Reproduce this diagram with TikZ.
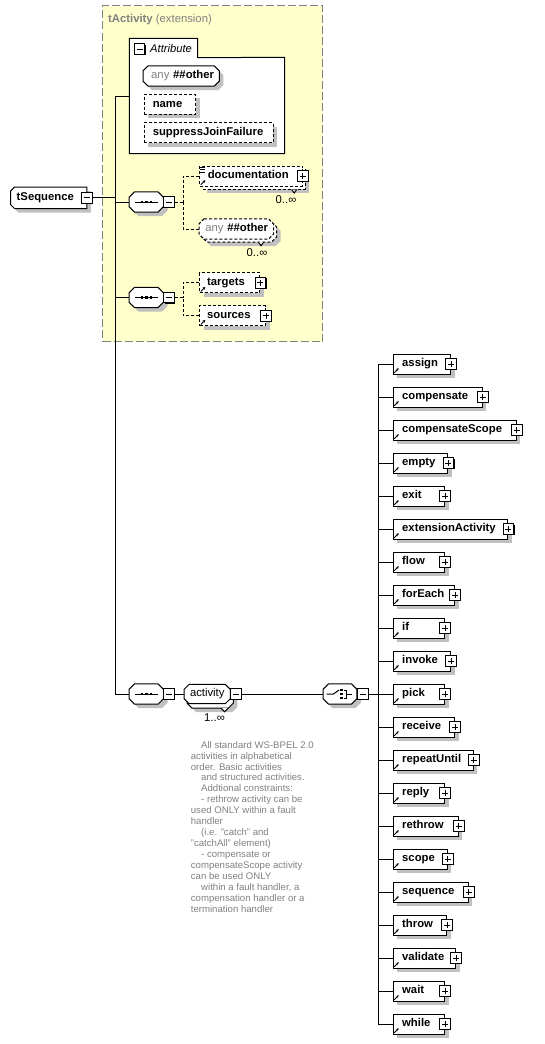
\documentclass[tikz,border=0pt]{standalone}
\usepackage{fontspec}
\setmainfont{Liberation Sans}
\usetikzlibrary{shadows,arrows.meta}
\definecolor{yel}{RGB}{255,255,204}
\definecolor{ybord}{RGB}{128,128,128}
\definecolor{shadowc}{RGB}{192,192,192}
\definecolor{txtgray}{RGB}{128,128,128}
\definecolor{annot}{RGB}{128,128,128}
\pgfdeclarelayer{bg}
\pgfdeclarelayer{shp}
\pgfsetlayers{bg,shp,main}
\newcommand\myfb{\fontsize{11.3pt}{13pt}\selectfont\bfseries}
\newcommand\myfn{\fontsize{11.3pt}{13pt}\selectfont\mdseries}
\newcommand\myfi{\fontsize{11.2pt}{13pt}\selectfont\itshape}
\newcommand\myfa{\fontsize{9.6pt}{10.93pt}\selectfont}
\newcommand\refmk[1]{\draw[line width=0.9pt,-{Stealth[length=2.8pt,width=2.8pt]}] ([shift={(1.5,-1.8)}]#1.south west) -- ++(4.5,-4.5);}
% octagon outline of a node: #1 node, #2 left chamfer, #3 right chamfer, #4 style, #5 dx, #6 dy
\newcommand\octo[6]{\path[#4] ([xshift=#2+#5,yshift=#6]#1.north west) -- ([xshift=-#3+#5,yshift=#6]#1.north east)
  -- ([xshift=#5,yshift=-#3+#6]#1.north east) -- ([xshift=#5,yshift=#3+#6]#1.south east)
  -- ([xshift=-#3+#5,yshift=#6]#1.south east) -- ([xshift=#2+#5,yshift=#6]#1.south west)
  -- ([xshift=#5,yshift=#2+#6]#1.south west) -- ([xshift=#5,yshift=-#2+#6]#1.north west) -- cycle;}
\newcommand\octs[4]{\begin{pgfonlayer}{shp}\octo{#1}{#2}{#3}{fill=shadowc}{4pt}{-4pt}%
  \octo{#1}{#2}{#3}{draw,fill=white,line width=1pt,#4}{0pt}{0pt}\end{pgfonlayer}}
\newcommand\octf[4]{\begin{pgfonlayer}{shp}\octo{#1}{#2}{#3}{draw,fill=white,line width=1pt,#4}{0pt}{0pt}\end{pgfonlayer}}
\tikzset{
  ln/.style={line width=1pt},
  dsh/.style={dash pattern=on 3pt off 2pt},
  shad/.style={drop shadow={shadow xshift=4pt,shadow yshift=-4pt,fill=shadowc,draw=none,opacity=1}},
  ebox/.style={draw, line width=1pt, fill=white, inner xsep=0pt, inner ysep=0pt,
    minimum height=20pt, text height=8pt, text depth=2.5pt, align=left,
    text width=#1, font=\myfb, anchor=west},
  octn/.style={rectangle, inner sep=0pt, minimum height=20pt, text height=8pt, text depth=2.5pt,
    align=left, font=\myfb},
  smallbox/.style={draw, line width=0.9pt, fill=white, minimum size=10.5pt, inner sep=0pt,
    drop shadow={shadow xshift=1pt,shadow yshift=-1pt,fill=black,draw=none,opacity=1}},
  pbox/.style={smallbox, path picture={\draw[line width=0.9pt]
      ([xshift=-3pt]path picture bounding box.center) -- ([xshift=3pt]path picture bounding box.center)
      ([yshift=-3pt]path picture bounding box.center) -- ([yshift=3pt]path picture bounding box.center);}},
  mbox/.style={smallbox, path picture={\draw[line width=0.9pt]
      ([xshift=-3pt]path picture bounding box.center) -- ([xshift=3pt]path picture bounding box.center);}},
}
\begin{document}
\begin{tikzpicture}[x=1pt,y=-1pt]
\useasboundingbox (0,0) rectangle (544,1044);

% extension area
\begin{pgfonlayer}{bg}
\node[draw=ybord, fill=yel, dash pattern=on 8pt off 3pt, line width=1pt, minimum width=220pt,
  minimum height=336pt, inner sep=0pt, anchor=north west] (ext) at (102,5) {};
\node[fill=white, inner sep=0pt, minimum width=68pt, minimum height=19pt, anchor=north west] (attrtab) at (129.3,38.3) {};
\node[fill=white, inner sep=0pt, minimum width=155pt, minimum height=96pt, anchor=north west] (attrbody) at (129.3,57.3) {};
\draw[ln] (attrtab.north west) -- (attrtab.north east) -- (attrtab.south east) -- (attrbody.north east)
  -- (attrbody.south east) -- (attrbody.south west) -- cycle;
\end{pgfonlayer}
\node[anchor=base west, font=\myfb, text=txtgray, inner sep=0pt] (exttitle) at (108,22.5) {tActivity {\myfn(extension)}};

% attribute box content
\node[mbox] (attrm) at (139.6,49) {};
\node[anchor=base west, font=\myfi, inner sep=0pt] (attrlbl) at (150,52.8) {Attribute};
\node[octn, minimum width=75.7pt, text width=69pt] (anyattr) at (181.2,76)
  {\hspace*{4.5pt}{\myfn\color{txtgray}any} \#\#other};
\octs{anyattr}{5pt}{5pt}{}
\node[ebox=51.3pt, dsh, shad] (nameattr) at (143.7,104.3) {\hspace*{8.6pt}name};
\node[ebox=129pt, dsh, shad] (sjf) at (143.7,132.7) {\hspace*{8.6pt}suppressJoinFailure};

% tSequence
\node[octn, minimum width=76pt, minimum height=21pt, text width=70pt] (tseq) at (48.7,197.8)
  {\hspace*{3pt}tSequence};
\octs{tseq}{4pt}{0pt}{}
\node[mbox] (tseqm) at (tseq.east) {};

% compositors
\foreach \s/\yy in {seq1/202, seq2/297.5, seq3/694}{
  \node[octn, minimum width=34pt] (\s) at (146.3,\yy) {};
  \octs{\s}{5.5pt}{5.5pt}{}
  \draw[ln] ([xshift=-11.5pt]\s.center) -- ([xshift=11.5pt]\s.center);
  \foreach \dx in {-4.5,0,4.5}{\fill ([shift={(\dx-1.3,-1.3)}]\s.center) rectangle ++(2.6,2.6);}
  \node[mbox] (\s m) at ([xshift=5.5pt]\s.east) {};
}

% documentation
\node[ebox=102.4pt, dsh, shad] (docback) at (202.3,179) {};
\draw[ln, fill=white] ([xshift=-9pt]docback.south east) -- ++(-2.5,3.5) -- ++(-2.5,-3.5);
\node[ebox=102.4pt, dsh] (doc) at (199.3,176) {\hspace*{8pt}documentation};
\draw[line width=0.8pt] (200.3,167.5) -- ++(4.5,0) (200.3,169.8) -- ++(4.5,0) (200.3,172.1) -- ++(4.5,0);
\node[pbox] (docp) at (doc.east) {};
\refmk{doc}
\node[font=\myfn, inner sep=0pt, anchor=base] (dococc) at (286,203.5) {0..∞};

% any ##other element
\node[octn, minimum width=74pt] (anyback) at (239.3,232) {};
\octs{anyback}{5pt}{5pt}{dsh}
\node[octn, minimum width=74pt, text width=70pt] (anyel) at (236.3,229)
  {\hspace*{4pt}{\myfn\color{txtgray}any} \#\#other};
\octf{anyel}{5pt}{5pt}{dsh}
\draw[ln, fill=white] ([xshift=-13pt]anyback.south east) -- ++(-2.5,3.5) -- ++(-2.5,-3.5);
\node[font=\myfn, inner sep=0pt, anchor=base] (anyocc) at (257,256.5) {0..∞};

% targets / sources
\node[ebox=60pt, dsh, shad] (targets) at (199.3,282.7) {\hspace*{7.4pt}targets};
\node[pbox] (targetsp) at (targets.east) {};
\refmk{targets}
\node[ebox=65.7pt, dsh, shad] (sources) at (199.3,315.7) {\hspace*{7.4pt}sources};
\node[pbox] (sourcesp) at (sources.east) {};
\refmk{sources}

% dashed connectors
\coordinate (j1) at (183,202);
\coordinate (j2) at (183,297.5);
\draw[ln,dsh] (seq1m.east) -- (j1);
\draw[ln,dsh] (doc.west) -| (j1);
\draw[ln,dsh] (anyel.west) -| (j1);
\draw[ln,dsh] (seq2m.east) -- (j2);
\draw[ln,dsh] (targets.west) -| (j2);
\draw[ln,dsh] (sources.west) -| (j2);

% trunk
\coordinate (tk1) at (115,96);
\coordinate (tk2) at (115,694);
\draw[ln] (tk1) -- (tk2);
\draw[ln] (tk1) -- (tk1 -| attrbody.west);
\draw[ln] (tseqm.east) -- (tseqm.east -| tk1);
\draw[ln] (seq1.west -| tk1) -- (seq1.west);
\draw[ln] (seq2.west -| tk1) -- (seq2.west);
\draw[ln] (tk2) -- (seq3.west);

% activity group
\node[octn, minimum width=45.7pt, minimum height=19pt] (actback) at (210.2,698.5) {};
\octs{actback}{5pt}{5pt}{}
\node[octn, minimum width=45.7pt, minimum height=19pt, text width=40pt, font=\myfn] (act) at (207.2,694)
  {\hspace*{2.8pt}activity};
\octf{act}{5pt}{5pt}{}
\draw[ln, fill=white] ([xshift=-5pt]actback.south east) -- ++(-3.6,3.5) -- ++(-3.6,-3.5);
\node[mbox] (actm) at ([xshift=5.8pt]act.east) {};
\node[font=\myfn, inner sep=0pt, anchor=base] (actocc) at (214.5,721.7) {1..∞};
\draw[ln] (seq3m.east) -- (act.west);

% choice
\node[octn, minimum width=33.4pt] (choice) at (340,694) {};
\octs{choice}{5.5pt}{5.5pt}{}
\draw[ln] (326.7,694) -- (333.5,694) -- (339,690);
\foreach \dy in {690,694,698}{\fill (340.3,\dy-1.2) rectangle ++(2.4,2.4);}
\draw[ln] (343.5,690) -- (346.5,690) -- (346.5,698) -- (343.5,698) (346.5,694) -- (351.5,694);
\node[mbox] (chm) at ([xshift=5.8pt]choice.east) {};
\draw[ln] (actm.east) -- (choice.west);

\coordinate (cv1) at (378.3,364);
\coordinate (cv2) at (378.3,1024);
\draw[ln] (chm.east) -- (chm.east -| cv1);
\draw[ln] (cv1) -- (cv2);

\foreach \n/\w [count=\i from 0] in {assign/57.3, compensate/89, compensateScope/123, empty/54.6,
  exit/51.3, extensionActivity/114.6, flow/51.3, forEach/61.3, if/51.3, invoke/57.3, pick/51.3,
  receive/61.3, repeatUntil/80, reply/51.3, rethrow/65, scope/54, sequence/75, throw/53.3,
  validate/62.3, wait/51.3, while/51.3}{
  \node[ebox=\w pt, shad] (\n) at (392.7,{364+33*\i}) {\hspace*{9pt}\n};
  \node[pbox] (\n-p) at (\n.east) {};
  \refmk{\n}
  \draw[ln] (\n.west -| cv1) -- (\n.west);
}

% annotation
\node[anchor=north west, align=left, inner sep=0pt, font=\myfa, text=annot] (note) at (190.7,741) {%
\hspace*{10.3pt}All standard WS-BPEL 2.0\\
activities in alphabetical\\
order. Basic activities\\
\hspace*{10.3pt}and structured activities.\\
\hspace*{10.3pt}Addtional constraints:\\
\hspace*{10.3pt}- rethrow activity can be\\
used ONLY within a fault\\
handler\\
\hspace*{10.3pt}(i.e. "catch" and\\
"catchAll" element)\\
\hspace*{10.3pt}- compensate or\\
compensateScope activity\\
can be used ONLY\\
\hspace*{10.3pt}within a fault handler, a\\
compensation handler or a\\
termination handler};
\end{tikzpicture}
\end{document}
